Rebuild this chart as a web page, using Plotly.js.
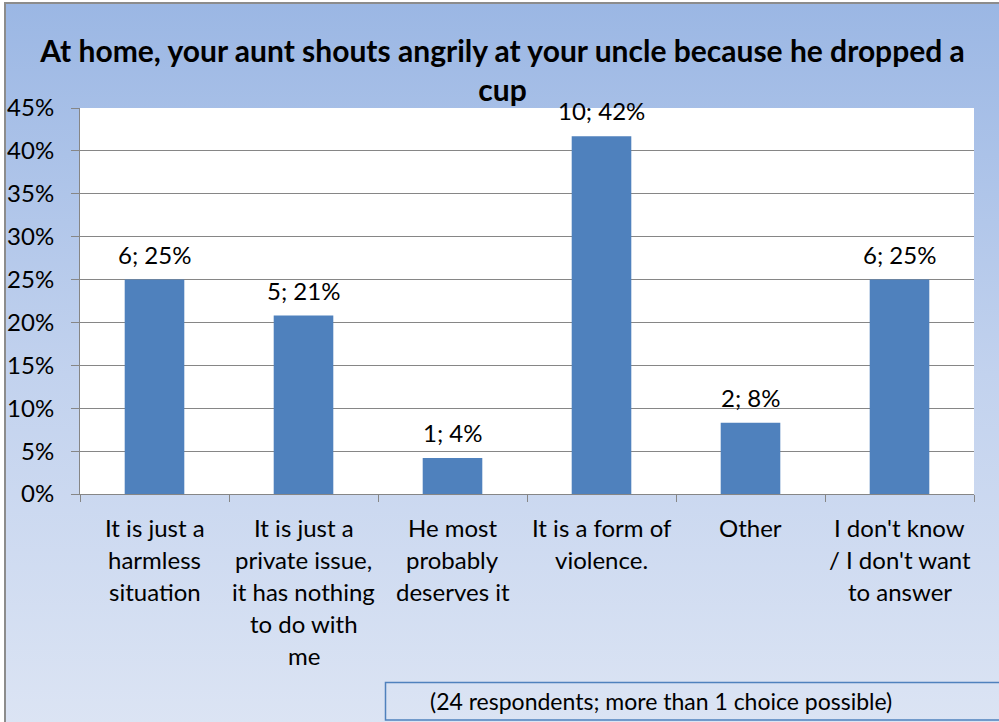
<!DOCTYPE html>
<html>
<head>
<meta charset="utf-8">
<script src="https://cdn.plot.ly/plotly-3.0.1.min.js"></script>
<style>
  html, body { margin: 0; padding: 0; width: 999px; height: 722px; overflow: hidden; background: #ffffff; }
  #bg { position: absolute; left: 4px; top: 2px; width: 1010px; height: 740px;
        background: linear-gradient(to bottom, #9bb7e4 0%, #c2d2ee 50%, #dde5f4 100%);
        border-left: 2px solid #8c8c8c; border-top: 2px solid #8c8c8c; }
  #chart { position: absolute; left: 0; top: 0; width: 999px; height: 722px; }
</style>
</head>
<body>
<div id="bg"></div>
<div id="chart"></div>
<script>
// ---- data ----
const categories = [
  "It is just a<br>harmless<br>situation",
  "It is just a<br>private issue,<br>it has nothing<br>to do with<br>me",
  "He most<br>probably<br>deserves it",
  "It is a form of<br>violence.",
  "Other",
  "I don't know<br>/ I don't want<br>to answer"
];
const counts = [6, 5, 1, 10, 2, 6];
const shares = [0.25, 0.208, 0.042, 0.417, 0.083, 0.25];
const shareLabels = ["25%", "21%", "4%", "42%", "8%", "25%"];
const yTickVals = [0, 0.05, 0.10, 0.15, 0.20, 0.25, 0.30, 0.35, 0.40, 0.45];
const yTickText = ["0%", "5%", "10%", "15%", "20%", "25%", "30%", "35%", "40%", "45%"];
const titleText = "At home, your aunt shouts angrily at your uncle because he dropped a<br>cup";
const noteText = "(24 respondents; more than 1 choice possible)";

const FONT = "Lato, 'Open Sans', sans-serif";
const xKeys = categories.map((c, i) => "c" + i);

const trace = {
  type: "bar",
  x: xKeys,
  y: shares,
  marker: { color: "#4f81bd", line: { width: 0 } },
  width: 0.4,
  hoverinfo: "skip"
};

const annotations = [];
// value labels above bars
xKeys.forEach((k, i) => {
  annotations.push({
    x: k, y: shares[i], xref: "x", yref: "y",
    text: counts[i] + "; " + shareLabels[i],
    showarrow: false, yanchor: "bottom", yshift: 9,
    font: { family: FONT, size: 24, color: "#000000" }
  });
});
// category labels, one line at a time (Excel-like line spacing)
xKeys.forEach((k, i) => {
  categories[i].split("<br>").forEach((line, j) => {
    annotations.push({
      x: k, y: 0, xref: "x", yref: "paper",
      text: line, showarrow: false, yanchor: "middle",
      yshift: -33 - j * 32,
      font: { family: FONT, size: 24, color: "#000000" }
    });
  });
});
// footnote
annotations.push({
  x: 0, y: 0, xref: "paper", yref: "paper",
  text: noteText, showarrow: false, xanchor: "center", yanchor: "middle",
  font: { family: FONT, size: 23, color: "#000000" }
});

const layout = {
  width: 999, height: 722,
  margin: { l: 80, r: 25, t: 108, b: 228, pad: 0 },
  paper_bgcolor: "rgba(0,0,0,0)",
  plot_bgcolor: "#ffffff",
  showlegend: false,
  title: {
    text: titleText,
    font: { family: FONT, size: 30, color: "#000000", weight: "bold" },
    x: 0.503, xref: "container", xanchor: "center",
    y: 1 - 62 / 722, yref: "container", yanchor: "top"
  },
  xaxis: {
    type: "category",
    tickvals: xKeys,
    showticklabels: false,
    tickson: "boundaries",
    ticks: "outside", ticklen: 7, tickcolor: "#868686", tickwidth: 1,
    showline: true, linecolor: "#868686", linewidth: 1,
    showgrid: false, zeroline: false,
    fixedrange: true
  },
  yaxis: {
    range: [0, 0.45],
    tickvals: yTickVals, ticktext: yTickText,
    ticks: "outside", ticklen: 8, tickcolor: "#868686",
    ticklabelstandoff: 12,
    showline: true, linecolor: "#868686", linewidth: 1,
    showgrid: true, gridcolor: "#868686", gridwidth: 1,
    zeroline: false,
    tickfont: { family: FONT, size: 24, color: "#000000" },
    fixedrange: true
  },
  shapes: [],
  annotations: annotations
};

// footnote box (paper coordinates converted from pixel anchors)
(function () {
  const pl = 80, pw = 894, pt = 108, ph = 386;
  const px = v => (v - pl) / pw;
  const py = v => 1 - (v - pt) / ph;
  const note = annotations[annotations.length - 1];
  note.x = px(661); note.y = py(701);
  layout.shapes.push({
    type: "rect", xref: "paper", yref: "paper",
    x0: px(385.5), x1: px(1010), y0: py(720), y1: py(682.5),
    line: { color: "#4f81bd", width: 1.5 }, fillcolor: "rgba(0,0,0,0)", layer: "above"
  });
})();

Plotly.newPlot("chart", [trace], layout, { displayModeBar: false, staticPlot: true });
</script>
</body>
</html>
